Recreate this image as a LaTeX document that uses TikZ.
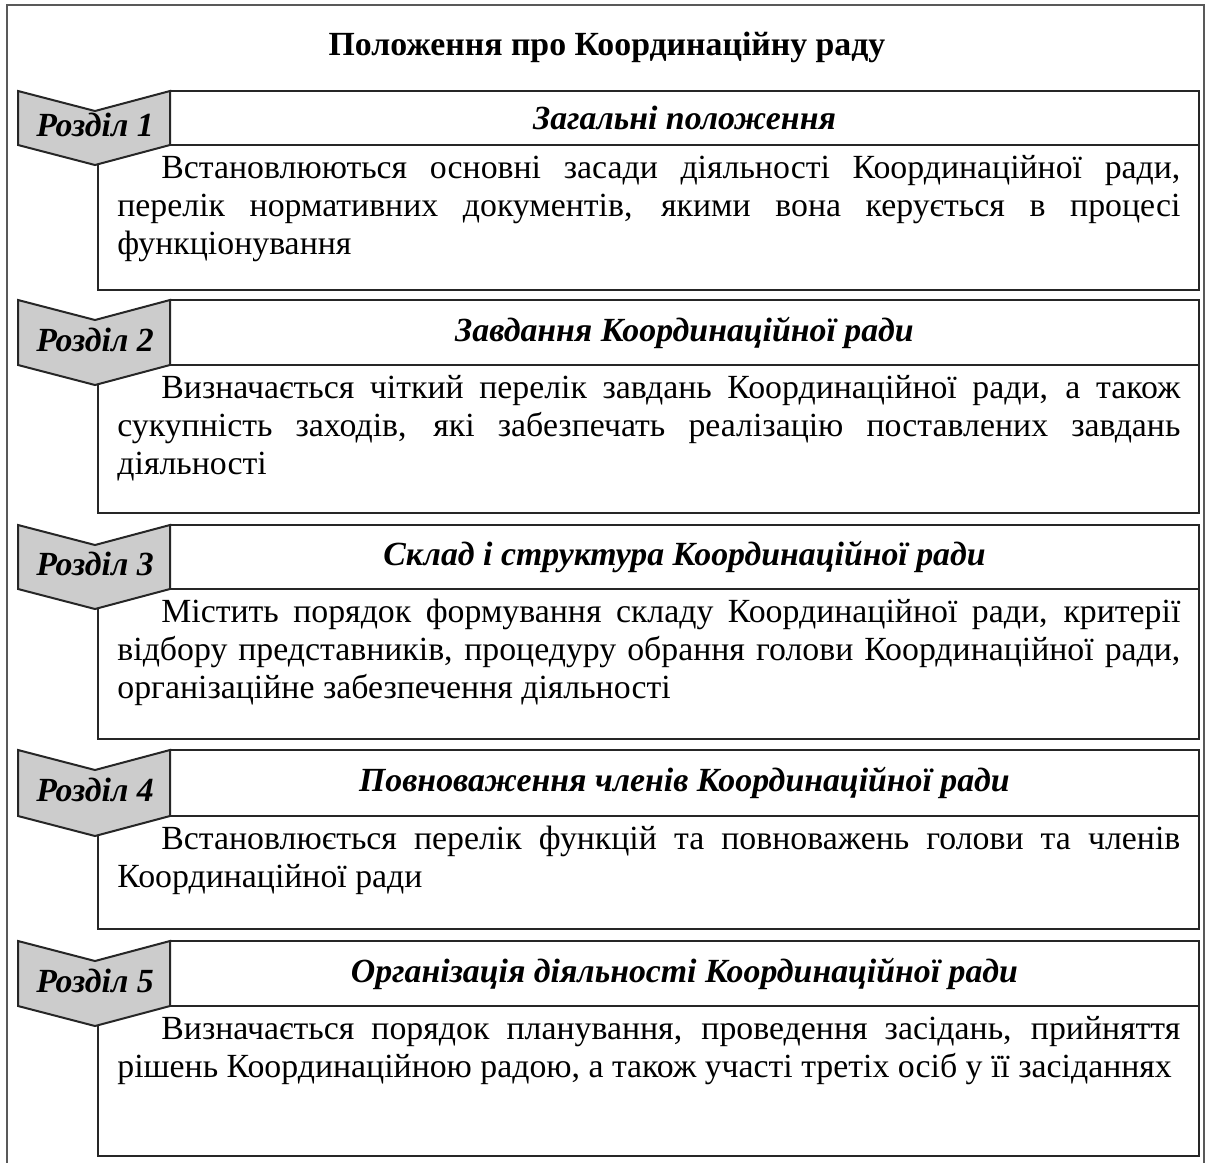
\documentclass[tikz,border=0pt]{standalone}
\usepackage{fontspec}
\setmainfont{Liberation Serif}
\tikzset{
  boxline/.style={draw=black!85, line width=1pt},
  outerline/.style={draw=black!65, line width=1.1pt},
  chevfill/.style={fill=black!20},
  chevtext/.style={font=\fontsize{16.9pt}{19pt}\selectfont\bfseries\itshape, inner sep=0pt},
  headtext/.style={font=\fontsize{16.9pt}{19pt}\selectfont\bfseries\itshape, inner sep=0pt},
  titletext/.style={font=\fontsize{16.9pt}{19pt}\selectfont\bfseries, inner sep=0pt},
  bodytext/.style={font=\fontsize{16.9pt}{19pt}\selectfont, inner sep=0pt, text width=531.5pt, align=justify, anchor=north west}
}
\newcommand\mysec[6]{%
  \draw[boxline] (98,#3) rectangle (1199,#4);
  \draw[boxline] (170,#2) rectangle (1199,#3);
  \draw[boxline, chevfill] (18,#2) -- (95,#2+20) -- (170,#2) -- (170,#3) -- (95,#3+20) -- (18,#3) -- cycle;
  \node[chevtext] (r#1) at (95,{(#2+#3)/2+7}) {Розділ #1};
  \node[headtext] (h#1) at (684.5,{(#2+#3)/2}) {#5};
  \node[bodytext] (b#1) at (117,#3+10) {\hspace*{22pt}#6};
}
\begin{document}
\begin{tikzpicture}[x=0.5pt, y=-0.5pt]
\useasboundingbox (0,0) rectangle (1209,1162);
\draw[outerline] (7,1170) -- (7,5) -- (1204,5) -- (1204,1170);
\node[titletext] (title) at (607,47) {Положення про Координаційну раду};
\mysec{1}{91}{145}{290}{Загальні положення}{Встановлюються основні засади діяльності Координаційної ради, \linebreak перелік нормативних документів, якими вона керується в процесі \linebreak функціонування}
\mysec{2}{300}{365}{513}{Завдання Координаційної ради}{Визначається чіткий перелік завдань Координаційної ради, а також \linebreak сукупність заходів, які забезпечать реалізацію поставлених завдань \linebreak діяльності}
\mysec{3}{525}{589}{739}{Склад і структура Координаційної ради}{Містить порядок формування складу Координаційної ради, критерії \linebreak відбору представників, процедуру обрання голови Координаційної ради, \linebreak організаційне забезпечення діяльності}
\mysec{4}{750}{816}{929}{Повноваження членів Координаційної ради}{Встановлюється перелік функцій та повноважень голови та членів \linebreak Координаційної ради}
\mysec{5}{941}{1006}{1156}{Організація діяльності Координаційної ради}{Визначається порядок планування, проведення засідань, прийняття \linebreak рішень Координаційною радою, а також участі третіх осіб у її засіданнях}
\end{tikzpicture}
\end{document}
